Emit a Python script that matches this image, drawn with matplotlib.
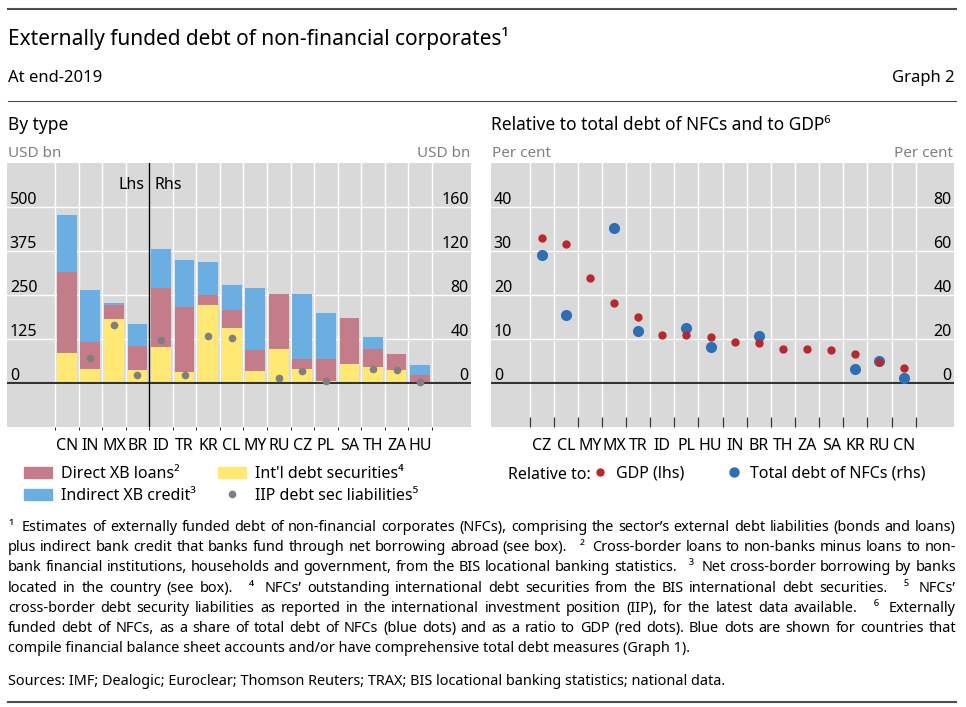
import matplotlib
matplotlib.use("Agg")
import matplotlib.pyplot as plt
from matplotlib.patches import Patch
from matplotlib.lines import Line2D
import numpy as np

plt.rcParams['font.family'] = ['Noto Sans', 'DejaVu Sans']

nan = np.nan

# left panel: by type (USD bn); first four on lhs, the rest on rhs
countries_type = ['CN', 'IN', 'MX', 'BR', 'ID', 'TR', 'KR', 'CL', 'MY', 'RU',
                  'CZ', 'PL', 'SA', 'TH', 'ZA', 'HU']
intl_securities = [84, 41, 182, 36, 33, 10, 71, 50, 11, 31, 13, 1.5, 17, 15, 11.5, 1]
direct_loans = [232, 76, 40, 68, 53, 59.5, 9, 16, 19, 50, 9, 20, 42, 15.5, 15, 6.5]
indirect_credit = [161, 148, 6, 65, 36, 42.5, 30, 23, 56, 0, 59, 42, 0, 11, 0, 8.7]
iip_liabilities = [nan, 72, 164, 23, 39, 7, 43, 41, nan, 5, 11, 2, nan, 13, 11.5, 0.5]
n_lhs = 4

# right panel: relative to GDP (lhs) and to total NFC debt (rhs), per cent
countries_rel = ['CZ', 'CL', 'MY', 'MX', 'TR', 'ID', 'PL', 'HU', 'IN', 'BR',
                 'TH', 'ZA', 'SA', 'KR', 'RU', 'CN']
rel_gdp = [33.0, 31.5, 23.8, 18.2, 14.9, 10.9, 10.9, 10.5, 9.3, 9.2, 7.7, 7.7, 7.4, 6.7, 4.8, 3.3]
rel_total_debt = [58.3, 31.0, nan, 70.5, 23.6, nan, 25.0, 16.5, nan, 21.4, nan, nan, nan, 6.3, 10.2, 2.1]

RED_BAR = '#c47c8b'
BLUE_BAR = '#6aaee2'
YELLOW = '#ffe873'
GRAY_DOT = '#7f7f7f'
RED_DOT = '#b7282e'
BLUE_DOT = '#2f6eb5'
BG = '#d9d9d9'
LINE = '#4d4d4d'

W, H = 966, 707
fig = plt.figure(figsize=(W / 100, H / 100), dpi=100)


def fx(px):
    return px / W


def fy(py):
    return 1 - py / H


def hline(y, lw):
    fig.add_artist(Line2D([fx(8), fx(956)], [fy(y), fy(y)], color=LINE, lw=lw))


def style_panel(ax, n, yticks):
    ax.set_facecolor(BG)
    for s in ax.spines.values():
        s.set_visible(False)
    ax.set_xticks(range(n))
    ax.set_xticks(np.arange(-0.5, n), minor=True)
    ax.set_yticks(yticks)
    ax.set_axisbelow(True)
    ax.grid(which='minor', axis='x', color='white', lw=1)
    ax.grid(which='major', axis='y', color='white', lw=1)
    ax.tick_params(axis='y', length=0, labelleft=False)
    ax.tick_params(axis='x', which='major', length=0, labelsize=11.5, pad=8)


def side_labels(ax, values, left):
    for v in values:
        ax.annotate(str(v), xy=(0.006 if left else 0.995, v), xycoords=ax.get_yaxis_transform(),
                    xytext=(0, 2.4), textcoords='offset points', va='baseline',
                    ha='left' if left else 'right', fontsize=11.5)


# ---- header ----
hline(9, 1.5)
fig.text(fx(8), fy(45), 'Externally funded debt of non-financial corporates\u00b9', fontsize=15, va='baseline')
fig.text(fx(8), fy(82), 'At end-2019', fontsize=12, va='baseline')
fig.text(fx(955), fy(82), 'Graph 2', fontsize=12, va='baseline', ha='right')
hline(101, 0.8)
fig.text(fx(8), fy(130), 'By type', fontsize=12.5, va='baseline')
fig.text(fx(491), fy(130), 'Relative to total debt of NFCs and to GDP\u2076', fontsize=12.5, va='baseline')

# ---- left panel ----
axL = fig.add_axes([fx(7), fy(427), fx(464), 264 / H])
style_panel(axL, len(countries_type), [0, 125, 250, 375, 500])
axL.set_xticklabels(countries_type)
axL.set_xlim(-2.54, 17.16)
axL.set_ylim(-125, 625)
axL2 = axL.twinx()
axL2.set_ylim(-40, 200)
axL2.set_yticks([])
for s in axL2.spines.values():
    s.set_visible(False)

sec = np.array(intl_securities, dtype=float)
dl = np.array(direct_loans, dtype=float)
ic = np.array(indirect_credit, dtype=float)
iip = np.array(iip_liabilities, dtype=float)
for ax, idx in [(axL, np.arange(n_lhs)), (axL2, np.arange(n_lhs, len(countries_type)))]:
    ax.bar(idx, sec[idx], width=0.84, color=YELLOW, zorder=2)
    ax.bar(idx, dl[idx], bottom=sec[idx], width=0.84, color=RED_BAR, zorder=2)
    ax.bar(idx, ic[idx], bottom=sec[idx] + dl[idx], width=0.84, color=BLUE_BAR, zorder=2)
    ax.plot(idx, iip[idx], 'o', color=GRAY_DOT, ms=4.5, zorder=5)
axL2.axhline(0, color='#333333', lw=1.5, zorder=4)
axL2.axvline(n_lhs - 0.5, color='black', lw=1, zorder=4)
side_labels(axL, [0, 125, 250, 375, 500], True)
side_labels(axL2, [0, 40, 80, 120, 160], False)
fig.text(fx(144), fy(189), 'Lhs', fontsize=11.5, ha='right', va='baseline')
fig.text(fx(154), fy(189), 'Rhs', fontsize=11.5, ha='left', va='baseline')
fig.text(fx(8), fy(157), 'USD bn', fontsize=11, color='#808080', va='baseline')
fig.text(fx(470), fy(157), 'USD bn', fontsize=11, color='#808080', va='baseline', ha='right')

# ---- right panel ----
axR = fig.add_axes([fx(491), fy(427), fx(463), 264 / H])
style_panel(axR, len(countries_rel), [0, 20, 40, 60, 80])
axR.set_xticklabels(countries_rel)
axR.tick_params(axis='x', which='minor', direction='in', length=7, width=0.9, color='#333333')
axR.set_xlim(-2.1, 17.09)
axR.set_ylim(-20, 100)
axR.axhline(0, color='#333333', lw=1.5, zorder=2)
axR.plot(range(len(countries_rel)), rel_total_debt, 'o', color=BLUE_DOT, ms=7, zorder=3)
axR2 = axR.twinx()
axR2.set_ylim(-10, 50)
axR2.set_yticks([])
for s in axR2.spines.values():
    s.set_visible(False)
axR2.plot(range(len(countries_rel)), rel_gdp, 'o', color=RED_DOT, ms=5, zorder=3)
side_labels(axR2, [0, 10, 20, 30, 40], True)
side_labels(axR, [0, 20, 40, 60, 80], False)
fig.text(fx(492), fy(157), 'Per cent', fontsize=11, color='#808080', va='baseline')
fig.text(fx(953), fy(157), 'Per cent', fontsize=11, color='#808080', va='baseline', ha='right')

# ---- legends ----
handles = [Patch(color=RED_BAR), Patch(color=BLUE_BAR), Patch(color=YELLOW),
           Line2D([], [], marker='o', ls='none', color=GRAY_DOT, ms=4.5)]
labels = ['Direct XB loans\u00b2', 'Indirect XB credit\u00b3',
          "Int'l debt securities\u2074", 'IIP debt sec liabilities\u2075']
fig.legend(handles, labels, ncol=2, loc='upper left', bbox_to_anchor=(fx(24), fy(466)),
           frameon=False, fontsize=11.5, handlelength=1.75, handleheight=0.7, handletextpad=0.55,
           columnspacing=1.4, labelspacing=0.36, borderpad=0, borderaxespad=0)

fig.text(fx(508), fy(479), 'Relative to:', fontsize=11.5, va='baseline')
fig.legend([Line2D([], [], marker='o', ls='none', color=RED_DOT, ms=5),
            Line2D([], [], marker='o', ls='none', color=BLUE_DOT, ms=6.5)],
           ['GDP (lhs)', 'Total debt of NFCs (rhs)'], ncol=2, loc='upper left',
           bbox_to_anchor=(fx(592), fy(466)), frameon=False, fontsize=11.5,
           handlelength=1.0, handletextpad=0.5, columnspacing=2.6, borderpad=0, borderaxespad=0)

# ---- footnotes ----
notes = [
    '\u00b9  Estimates of externally funded debt of non-financial corporates (NFCs), comprising the sector\u2019s external debt liabilities (bonds and loans)',
    'plus indirect bank credit that banks fund through net borrowing abroad (see box).   \u00b2  Cross-border loans to non-banks minus loans to non-',
    'bank financial institutions, households and government, from the BIS locational banking statistics.   \u00b3  Net cross-border borrowing by banks',
    'located in the country (see box).   \u2074  NFCs\u2019 outstanding international debt securities from the BIS international debt securities.   \u2075  NFCs\u2019',
    'cross-border debt security liabilities as reported in the international investment position (IIP), for the latest data available.   \u2076  Externally',
    'funded debt of NFCs, as a share of total debt of NFCs (blue dots) and as a ratio to GDP (red dots). Blue dots are shown for countries that',
]
note_size = 10.4
renderer = fig.canvas.get_renderer()
for k, line in enumerate(notes):
    y = 531 + 20.2 * k
    words = line.split(' ')
    objs, widths = [], []
    for w in words:
        t = fig.text(0, fy(y), w, fontsize=note_size, va='baseline')
        objs.append(t)
        widths.append(t.get_window_extent(renderer).width if w else 0.0)
    gap = (956 - 8 - sum(widths)) / (len(words) - 1)
    x = 8
    for t, wd in zip(objs, widths):
        t.set_x(fx(x))
        x += wd + gap
fig.text(fx(8), fy(531 + 20.2 * 6),
         'compile financial balance sheet accounts and/or have comprehensive total debt measures (Graph 1).',
         fontsize=note_size, va='baseline')
fig.text(fx(8), fy(685),
         'Sources: IMF; Dealogic; Euroclear; Thomson Reuters; TRAX; BIS locational banking statistics; national data.',
         fontsize=note_size, va='baseline')
hline(702, 1.5)

fig.savefig('out.png', dpi=100)
